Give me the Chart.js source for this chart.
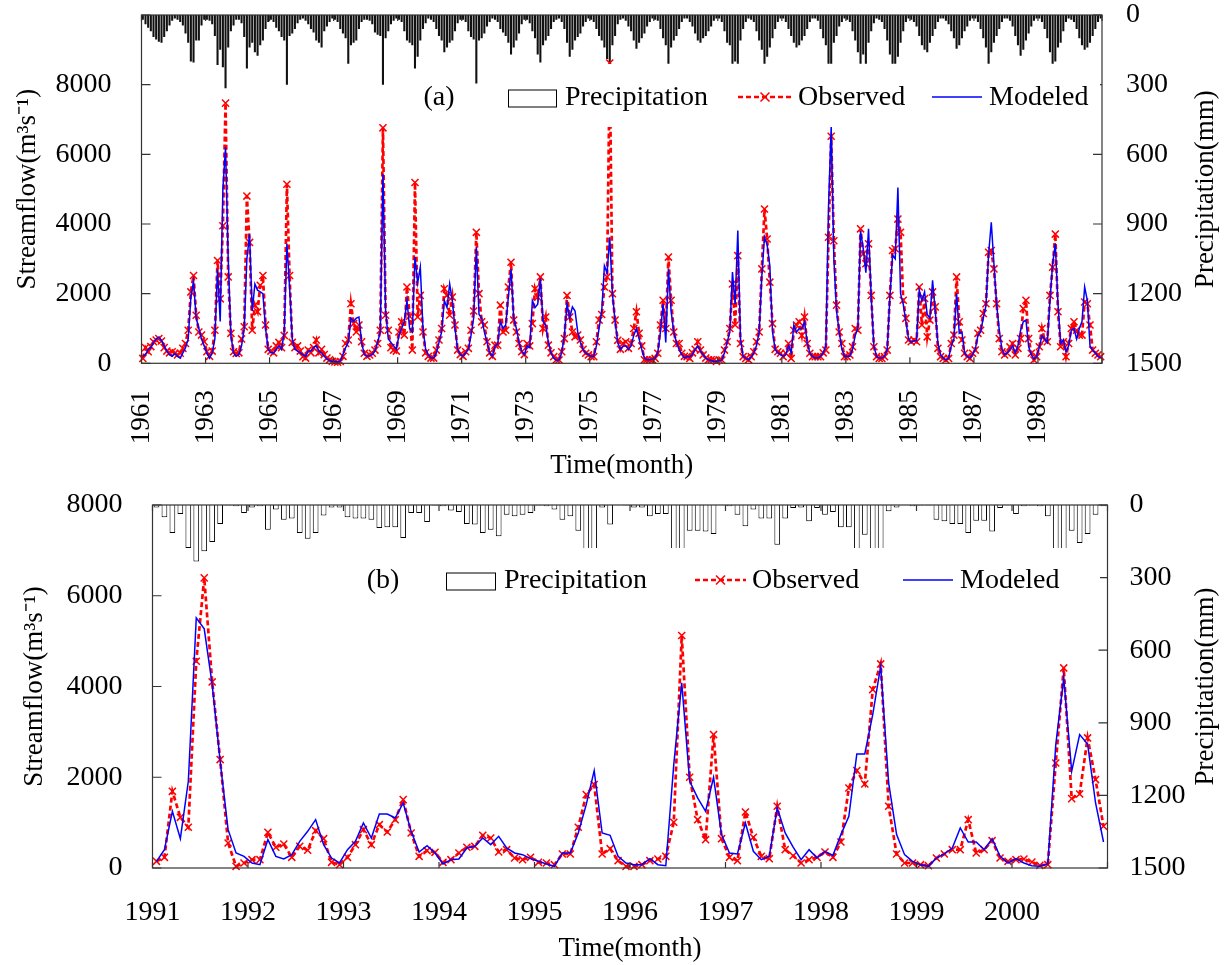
<!DOCTYPE html>
<html>
<head>
<meta charset="utf-8">
<script src="https://cdn.jsdelivr.net/npm/chart.js@4.4.1/dist/chart.umd.min.js"></script>
<style>
  body { margin: 0; background: #fff; }
  canvas { position: absolute; left: 0; }
  #chartA { top: 0; }
  #chartB { top: 482px; }
</style>
</head>
<body>
<canvas id="chartA" width="1228" height="482"></canvas>
<canvas id="chartB" width="1228" height="483"></canvas>
<script>
// ---- panel (a): monthly values 1961-1990, one row per year ----
const obsA = [
  140, 450, 330, 480, 620, 670, 710, 640, 450, 350, 300, 330,
  290, 240, 290, 430, 570, 950, 2050, 2520, 1380, 900, 810, 620,
  330, 200, 350, 950, 2950, 1850, 3950, 7470, 2480, 860, 330, 280,
  300, 700, 1050, 4800, 3470, 950, 1670, 1480, 2240, 2520, 1100, 400,
  350, 300, 500, 600, 450, 800, 5140, 2520, 600, 450, 500, 350,
  190, 150, 380, 300, 450, 670, 300, 400, 250, 150, 100, 60,
  40, 30, 50, 200, 570, 670, 1710, 1140, 900, 1100, 620, 290,
  200, 240, 290, 380, 570, 950, 6760, 1380, 950, 450, 380, 350,
  900, 1190, 810, 2190, 1350, 380, 5190, 1330, 1950, 900, 300, 200,
  150, 150, 380, 670, 1000, 2140, 1950, 1380, 1900, 1100, 380, 250,
  200, 330, 430, 950, 1500, 3760, 2000, 1190, 1100, 620, 300, 200,
  520, 520, 1670, 900, 950, 2190, 2900, 1240, 900, 570, 330, 250,
  570, 500, 1140, 2140, 1900, 2480, 1000, 1330, 520, 300, 190, 100,
  95, 330, 710, 1950, 1330, 900, 760, 810, 670, 400, 290, 240,
  190, 190, 620, 1240, 1400, 2190, 2480, 8620, 2000, 1240, 660, 400,
  570, 620, 430, 570, 1000, 1480, 860, 500, 100, 100, 100, 100,
  140, 290, 1100, 1810, 1000, 3050, 1810, 900, 570, 570, 290, 200,
  190, 140, 300, 400, 620, 380, 240, 150, 100, 100, 95, 50,
  95, 95, 380, 620, 1000, 2280, 1100, 3090, 570, 190, 140, 100,
  190, 330, 620, 900, 2710, 4430, 3570, 2330, 1140, 400, 330, 290,
  190, 290, 570, 140, 950, 1100, 1190, 800, 1330, 570, 290, 190,
  190, 190, 190, 300, 380, 3620, 6520, 3520, 1670, 900, 570, 190,
  190, 240, 475, 1000, 950, 3860, 3140, 2860, 3430, 1950, 475, 190,
  140, 140, 190, 380, 1950, 3240, 3290, 4140, 3760, 1810, 1290, 670,
  620, 670, 620, 2190, 1100, 1860, 760, 1240, 2050, 1620, 430, 190,
  140, 95, 140, 570, 810, 2480, 1190, 670, 290, 190, 140, 290,
  380, 860, 950, 1430, 1710, 3190, 3240, 2710, 1710, 710, 330, 240,
  290, 470, 570, 240, 430, 710, 1570, 1810, 710, 290, 95, 190,
  475, 1000, 670, 620, 1950, 2760, 3710, 1480, 475, 620, 190, 570,
  1000, 1190, 950, 810, 810, 1760, 1710, 1100, 380, 290, 240, 190
];
const modA = [
  200, 250, 400, 450, 600, 700, 750, 650, 500, 350, 250, 200,
  280, 200, 150, 300, 450, 700, 1900, 2350, 1300, 1000, 700, 500,
  300, 150, 300, 700, 2700, 1200, 5000, 6200, 3000, 800, 300, 200,
  250, 500, 1000, 3000, 3700, 1500, 2280, 2100, 2050, 2000, 1000, 400,
  300, 300, 400, 500, 400, 900, 3430, 2200, 700, 400, 350, 300,
  250, 200, 350, 350, 450, 500, 350, 300, 200, 120, 80, 60,
  50, 40, 60, 250, 450, 600, 1290, 1200, 1300, 1330, 600, 250,
  200, 220, 250, 350, 600, 900, 5430, 1500, 700, 600, 500, 400,
  800, 1000, 1200, 1800, 1000, 900, 3050, 2300, 2760, 1000, 400, 250,
  150, 150, 300, 600, 900, 1800, 1600, 2280, 1800, 1000, 400, 250,
  200, 300, 400, 800, 1300, 3330, 1400, 1300, 900, 600, 300, 200,
  500, 550, 1200, 1000, 1100, 1900, 2700, 1300, 1000, 600, 350, 250,
  500, 450, 1800, 1600, 1700, 2430, 1200, 1100, 600, 300, 150, 80,
  100, 300, 800, 1700, 1300, 1620, 1500, 900, 600, 400, 300, 250,
  200, 200, 500, 1000, 1500, 2800, 2600, 3620, 2000, 1200, 600, 400,
  500, 500, 400, 500, 800, 1000, 700, 400, 150, 100, 100, 120,
  150, 300, 900, 1700, 600, 2710, 1500, 900, 600, 400, 250, 150,
  200, 180, 250, 400, 500, 350, 250, 150, 100, 80, 60, 50,
  80, 90, 300, 600, 900, 2620, 1700, 3810, 700, 200, 150, 100,
  180, 300, 500, 900, 2500, 3620, 3400, 2800, 900, 400, 300, 250,
  200, 250, 500, 300, 1100, 900, 1000, 1000, 1200, 600, 300, 200,
  150, 150, 200, 300, 500, 4500, 6800, 3000, 1500, 900, 400, 200,
  200, 200, 400, 800, 1000, 3800, 3300, 2600, 3860, 1900, 500, 200,
  150, 150, 200, 400, 1900, 3100, 3000, 5050, 2000, 1700, 1200, 700,
  600, 650, 650, 2100, 1800, 2050, 1400, 1300, 2380, 1500, 570, 250,
  150, 100, 150, 500, 700, 2000, 860, 900, 300, 200, 150, 250,
  400, 800, 900, 1300, 1650, 3140, 4050, 2850, 1700, 950, 400, 250,
  300, 400, 500, 300, 500, 950, 1190, 1240, 480, 250, 120, 200,
  450, 800, 700, 600, 1800, 2860, 3430, 1710, 570, 670, 330, 500,
  950, 1000, 700, 1000, 1200, 2190, 1810, 500, 380, 300, 200, 150
];
const precipA = [
  20, 40, 55, 70, 95, 105, 115, 120, 95, 70, 45, 25,
  15, 20, 30, 45, 80, 120, 200, 205, 110, 110, 45, 20,
  20, 25, 40, 90, 215, 150, 225, 315, 140, 70, 45, 20,
  20, 35, 95, 230, 140, 120, 160, 175, 130, 110, 60, 30,
  20, 30, 55, 70, 95, 110, 300, 90, 80, 60, 35, 20,
  15, 25, 40, 60, 75, 110, 120, 140, 70, 50, 30, 15,
  20, 30, 60, 80, 100, 210, 130, 120, 110, 60, 30, 20,
  20, 25, 40, 75, 85, 90, 300, 100, 70, 40, 25, 15,
  20, 30, 70, 110, 120, 130, 230, 180, 110, 60, 35, 15,
  20, 30, 60, 90, 110, 160, 140, 120, 110, 70, 35, 20,
  20, 30, 70, 95, 105, 295, 110, 100, 80, 50, 30, 15,
  20, 30, 60, 75, 90, 120, 170, 140, 110, 80, 40, 20,
  20, 35, 70, 100, 170, 205, 130, 110, 90, 60, 30, 20,
  15, 30, 60, 120, 180, 150, 110, 95, 80, 50, 30, 15,
  20, 30, 60, 90, 110, 140, 190, 205, 130, 90, 40, 20,
  15, 25, 50, 70, 110, 145, 120, 100, 80, 50, 30, 15,
  20, 25, 60, 100, 130, 210, 140, 110, 90, 60, 30, 15,
  15, 30, 50, 80, 110, 120, 100, 90, 70, 50, 25, 15,
  15, 30, 70, 120, 130, 210, 200, 210, 110, 60, 30, 15,
  20, 30, 70, 110, 150, 210, 180, 140, 100, 60, 30, 15,
  15, 30, 60, 90, 120, 140, 130, 110, 90, 60, 30, 15,
  15, 25, 60, 100, 130, 210, 210, 120, 90, 50, 30, 15,
  20, 30, 70, 110, 160, 210, 170, 210, 120, 70, 35, 15,
  20, 30, 60, 110, 170, 210, 210, 180, 120, 70, 30, 15,
  20, 30, 50, 90, 130, 150, 160, 120, 90, 60, 30, 15,
  15, 25, 40, 70, 100, 145, 130, 100, 70, 50, 25, 15,
  15, 30, 60, 100, 140, 210, 160, 120, 90, 60, 30, 15,
  15, 25, 50, 90, 130, 175, 150, 110, 80, 50, 25, 15,
  15, 30, 60, 100, 160, 210, 200, 140, 120, 70, 30, 15,
  20, 30, 60, 100, 130, 150, 140, 120, 90, 60, 30, 15
];

// ---- panel (b): monthly values 1991-2000 ----
const obsB = [
  147, 235, 1690, 1117, 897, 4557, 6394, 4101, 2389, 551, 37, 110,
  184, 184, 786, 456, 529, 235, 478, 390, 823, 647, 125, 73,
  235, 515, 845, 515, 955, 794, 1066, 1507, 772, 257, 382, 345,
  125, 184, 331, 456, 478, 720, 661, 353, 404, 220, 184, 235,
  125, 110, 73, 309, 309, 897, 1617, 1838, 309, 426, 162, 37,
  37, 73, 162, 198, 257, 1007, 5123, 1999, 1066, 625, 2940, 647,
  235, 162, 1235, 676, 257, 206, 1360, 404, 270, 110, 184, 235,
  353, 235, 573, 1764, 2146, 1852, 3932, 4498, 1360, 309, 110, 110,
  73, 51, 220, 309, 404, 404, 1066, 331, 404, 603, 220, 147,
  184, 198, 132, 59, 73, 2315, 4410, 1529, 1632, 2867, 1948, 919
];
const modB = [
  147, 404, 1250, 647, 1911, 5513, 5270, 4043, 2352, 845, 331, 257,
  110, 73, 625, 257, 198, 294, 588, 808, 1066, 515, 220, 110,
  404, 588, 992, 661, 1191, 1191, 1102, 1433, 808, 353, 492, 331,
  88, 184, 198, 441, 478, 661, 515, 698, 441, 331, 294, 206,
  147, 88, 37, 331, 331, 772, 1397, 2146, 772, 720, 257, 110,
  73, 73, 206, 73, 51, 2279, 4079, 1911, 1544, 1250, 1999, 735,
  331, 309, 992, 368, 184, 257, 1323, 772, 460, 184, 404, 220,
  368, 279, 735, 1139, 2514, 2514, 3381, 4447, 1874, 735, 294, 147,
  73, 37, 220, 309, 441, 882, 573, 573, 404, 647, 257, 110,
  206, 110, 51, 37, 88, 2719, 4189, 2132, 2940, 2734, 1433, 573
];
const precipB = [
  10, 51, 116, 37, 178, 233, 191, 153, 78, 2, 5, 33,
  10, 5, 102, 19, 61, 56, 116, 139, 116, 43, 10, 10,
  51, 56, 56, 61, 95, 92, 92, 136, 33, 33, 70, 2,
  5, 23, 29, 78, 81, 116, 102, 129, 40, 47, 40, 33,
  2, 5, 19, 61, 47, 106, 200, 190, 10, 81, 0, 2,
  10, 10, 47, 37, 37, 190, 210, 106, 106, 109, 120, 0,
  5, 40, 88, 19, 56, 56, 164, 56, 12, 10, 67, 12,
  40, 29, 92, 92, 185, 123, 200, 200, 26, 10, 0, 5,
  2, 2, 61, 67, 78, 78, 116, 65, 65, 109, 12, 0,
  37, 5, 2, 5, 47, 200, 200, 106, 157, 120, 40, 5
];

// ---- tick labels ----
const yearTicksA = ["1961", "1963", "1965", "1967", "1969", "1971", "1973", "1975",
  "1977", "1979", "1981", "1983", "1985", "1987", "1989"];
const yearTicksB = ["1991", "1992", "1993", "1994", "1995", "1996", "1997", "1998", "1999", "2000"];
const flowTicksA = ["0", "2000", "4000", "6000", "8000"];
const flowTicksB = ["0", "2000", "4000", "6000", "8000"];
const rainTicks = ["0", "300", "600", "900", "1200", "1500"];

const SERIF = "'Liberation Serif', 'Times New Roman', serif";

// month i is drawn at its middle, so year ticks fall on month boundaries
function monthPoints(values) {
  return values.map((v, i) => ({ x: i + 0.5, y: v }));
}

// fixed box sizes so the plot area sits where the original one does
function fixSize(dim, size) {
  return (s) => {
    s[dim] = size;
    s.paddingTop = 0; s.paddingBottom = 0;
    s.paddingLeft = 0; s.paddingRight = 0;
  };
}

// closed box with inward ticks, like the original plot
const boxTicks = {
  id: "boxTicks",
  afterDatasetsDraw(chart) {
    const { ctx, chartArea: a, scales } = chart;
    ctx.save();
    ctx.strokeStyle = "#333";
    ctx.lineWidth = 1.2;
    ctx.strokeRect(a.left, a.top, a.right - a.left, a.bottom - a.top);
    ctx.beginPath();
    scales.x.ticks.forEach((t) => {
      const px = scales.x.getPixelForValue(t.value);
      ctx.moveTo(px, a.bottom); ctx.lineTo(px, a.bottom - 6);
      ctx.moveTo(px, a.top); ctx.lineTo(px, a.top + 6);
    });
    scales.yL.ticks.forEach((t) => {
      const py = scales.yL.getPixelForValue(t.value);
      ctx.moveTo(a.left, py); ctx.lineTo(a.left + 9, py);
    });
    scales.yR.ticks.forEach((t) => {
      const py = scales.yR.getPixelForValue(t.value);
      ctx.moveTo(a.right, py); ctx.lineTo(a.right - 9, py);
    });
    ctx.stroke();
    ctx.restore();
  },
};

// legend box inside the plot, the panel tag and the right axis title
const panelLegend = {
  id: "panelLegend",
  afterDatasetsDraw(chart, args, o) {
    const { ctx, chartArea: a } = chart;
    ctx.save();
    ctx.fillStyle = "#fff";
    ctx.fillRect(o.box[0], o.box[1], o.box[2] - o.box[0], o.box[3] - o.box[1]);

    ctx.font = "28px " + SERIF;
    ctx.fillStyle = "#000";
    ctx.textBaseline = "middle";
    ctx.textAlign = "center";
    ctx.fillText(o.tag, o.tagX, o.y);

    ctx.textAlign = "left";
    // precipitation sample
    ctx.strokeStyle = "#000";
    ctx.lineWidth = 1;
    ctx.strokeRect(o.rect[0] + 0.5, o.y - 8, o.rect[1] - o.rect[0], 17);
    ctx.fillText("Precipitation", o.rect[1] + 9, o.y);

    // observed sample
    ctx.strokeStyle = "#ff0000";
    ctx.lineWidth = 2.7;
    ctx.setLineDash([5, 3]);
    ctx.beginPath();
    ctx.moveTo(o.obs[0], o.y - 1); ctx.lineTo(o.obs[1], o.y - 1);
    ctx.stroke();
    ctx.setLineDash([]);
    ctx.lineWidth = 1.5;
    const mx = (o.obs[0] + o.obs[1]) / 2, my = o.y - 1, r = 4.5;
    ctx.beginPath();
    ctx.moveTo(mx - r, my - r); ctx.lineTo(mx + r, my + r);
    ctx.moveTo(mx - r, my + r); ctx.lineTo(mx + r, my - r);
    ctx.stroke();
    ctx.fillText("Observed", o.obs[1] + 6, o.y);

    // modeled sample
    ctx.strokeStyle = "#0000ff";
    ctx.lineWidth = 1.5;
    ctx.beginPath();
    ctx.moveTo(o.mod[0], o.y - 1); ctx.lineTo(o.mod[1], o.y - 1);
    ctx.stroke();
    ctx.fillText("Modeled", o.mod[1] + 7, o.y);

    // right axis title reads bottom to top
    ctx.translate(chart.width - 22, (a.top + a.bottom) / 2);
    ctx.rotate(-Math.PI / 2);
    ctx.textAlign = "center";
    ctx.font = "27px " + SERIF;
    ctx.fillText("Precipitation(mm)", 0, 0);
    ctx.restore();
  },
};

function buildPanel(id, p) {
  return new Chart(document.getElementById(id), {
    type: "line",
    data: {
      datasets: [
        {
          type: "bar",
          label: "Precipitation",
          data: monthPoints(p.precip),
          yAxisID: "yR",
          order: 3,
          backgroundColor: p.barFill,
          borderColor: "#000",
          borderWidth: p.barBorder,
          barPercentage: p.barPct,
          categoryPercentage: 1,
        },
        {
          label: "Observed",
          data: monthPoints(p.obs),
          yAxisID: "yL",
          order: 2,
          borderColor: "#ff0000",
          borderWidth: 2.7,
          borderDash: [5, 3],
          pointStyle: "crossRot",
          pointRadius: 5,
          pointBorderWidth: 1.5,
          pointBorderColor: "#ff0000",
          tension: 0,
          clip: 8,
        },
        {
          label: "Modeled",
          data: monthPoints(p.mod),
          yAxisID: "yL",
          order: 1,
          borderColor: "#0000ff",
          borderWidth: 1.5,
          pointRadius: 0,
          tension: 0,
        },
      ],
    },
    options: {
      responsive: false,
      animation: false,
      events: [],
      layout: { padding: { top: p.top, left: 0, right: 0, bottom: 0 } },
      plugins: {
        legend: { display: false },
        tooltip: { enabled: false },
        panelLegend: p.legend,
      },
      scales: {
        x: {
          type: "linear",
          position: "bottom",
          min: 0,
          max: p.months,
          offset: false,
          grid: { display: false, drawTicks: false },
          border: { display: false },
          ticks: {
            stepSize: p.step,
            autoSkip: false,
            minRotation: p.rot,
            maxRotation: p.rot,
            padding: p.xPad,
            color: "#000",
            font: { family: SERIF, size: p.xFont },
            callback: (v) => p.years[Math.round(v / p.step)] || "",
          },
          title: {
            display: true,
            text: "Time(month)",
            color: "#000",
            font: { family: SERIF, size: 27 },
            padding: { top: 0, bottom: 0 },
          },
          afterFit: fixSize("height", p.xHeight),
        },
        yL: {
          type: "linear",
          position: "left",
          min: 0,
          max: p.flowMax,
          grid: { display: false, drawTicks: false },
          border: { display: false },
          ticks: {
            stepSize: 2000,
            padding: 30,
            color: "#000",
            font: { family: SERIF, size: 28 },
            callback: (v) => p.flowTicks[Math.round(v / 2000)] || "",
          },
          title: {
            display: true,
            text: "Streamflow(m³s⁻¹)",
            color: "#000",
            font: { family: SERIF, size: 27 },
            padding: { top: p.titlePad, bottom: 0 },
          },
          afterFit: fixSize("width", p.leftW),
        },
        yR: {
          type: "linear",
          position: "right",
          min: 0,
          max: 1500,
          reverse: true,
          grid: { display: false, drawTicks: false },
          border: { display: false },
          ticks: {
            stepSize: 300,
            padding: p.rPad,
            color: "#000",
            font: { family: SERIF, size: 28 },
            callback: (v) => rainTicks[Math.round(v / 300)] || "",
          },
          afterFit: fixSize("width", p.rightW),
        },
      },
    },
    plugins: [boxTicks, panelLegend],
  });
}

buildPanel("chartA", {
  obs: obsA, mod: modA, precip: precipA,
  months: 360, step: 24, years: yearTicksA, rot: 90, xPad: 27, xFont: 27,
  flowMax: 10000, flowTicks: flowTicksA,
  barFill: "#111", barBorder: 0, barPct: 0.78,
  top: 15, xHeight: 118.7, leftW: 141.5, rightW: 126, rPad: 24, titlePad: 12,
  legend: { box: [500, 64, 1100, 127], tag: "(a)", tagX: 439, y: 98,
            rect: [508, 556], obs: [738, 792], mod: [932, 982] },
});

buildPanel("chartB", {
  obs: obsB, mod: modB, precip: precipB,
  months: 120, step: 12, years: yearTicksB, rot: 0, xPad: 28, xFont: 28,
  flowMax: 8000, flowTicks: flowTicksB,
  barFill: "#fff", barBorder: 1, barPct: 0.72,
  top: 23, xHeight: 97, leftW: 152.5, rightW: 120.5, rPad: 22, titlePad: 19,
  legend: { box: [432, 66, 1100, 133], tag: "(b)", tagX: 383, y: 99,
            rect: [446, 495], obs: [695, 746], mod: [903, 953] },
});
</script>
</body>
</html>
